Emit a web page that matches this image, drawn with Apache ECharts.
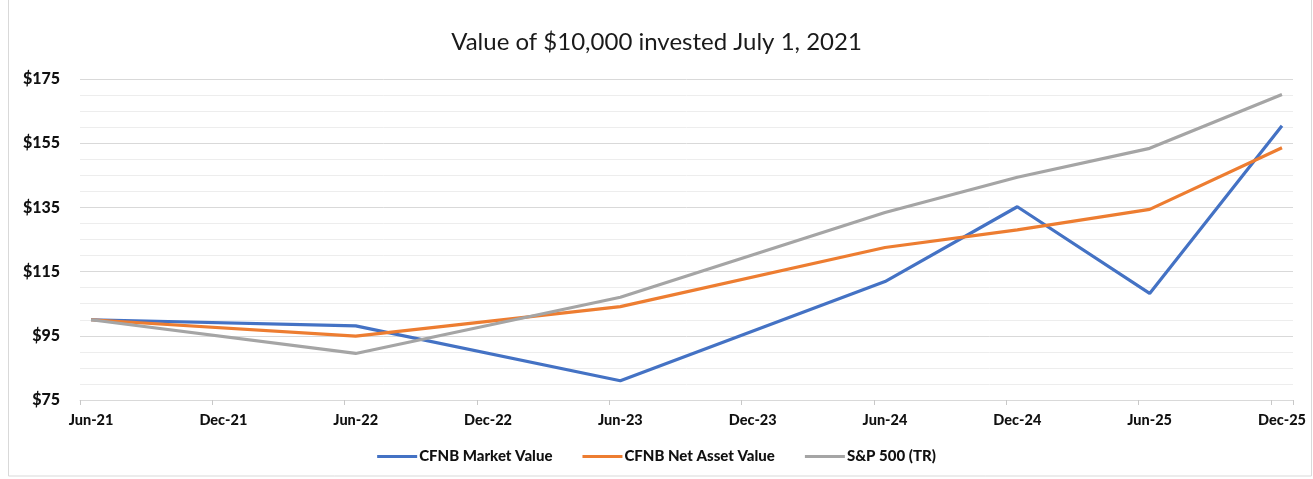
<!DOCTYPE html>
<html>
<head>
<meta charset="utf-8">
<title>Value of $10,000 invested July 1, 2021</title>
<script src="https://cdn.jsdelivr.net/npm/echarts@6/dist/echarts.min.js"></script>
<style>
  html, body { margin: 0; padding: 0; background: #fff; }
  #chart { width: 1313px; height: 479px; }
</style>
</head>
<body>
<div id="chart"></div>
<script>
// monthly category slots, Jun-21 .. Dec-25
const monthNames = ["Jan", "Feb", "Mar", "Apr", "May", "Jun", "Jul", "Aug", "Sep", "Oct", "Nov", "Dec"];
const months = [];
for (let y = 2021; y <= 2025; y++) {
  for (let m = 0; m < 12; m++) {
    if (y === 2021 && m < 5) continue;
    months.push(monthNames[m] + "-" + String(y).slice(2));
  }
}

const dates = ["Jun-21", "Jun-22", "Jun-23", "Jun-24", "Dec-24", "Jun-25", "Dec-25"];
const marketValue = [100, 98.1, 81.0, 111.9, 135.2, 108.2, 160.4];
const netAssetValue = [100, 94.9, 104.1, 122.5, 128.0, 134.4, 153.6];
const sp500 = [100, 89.5, 107.0, 133.4, 144.4, 153.4, 170.2];

const pairs = vals => dates.map((d, i) => [d, vals[i]]);

const font = "Lato, 'Liberation Sans', sans-serif";

const lineSeries = (name, color, vals) => ({
  name,
  type: "line",
  data: pairs(vals),
  connectNulls: true,
  showSymbol: false,
  symbol: "none",
  lineStyle: { color, width: 3.2 },
  itemStyle: { color },
  emphasis: { disabled: true }
});

const chart = echarts.init(document.getElementById("chart"));
chart.setOption({
  animation: false,
  title: {
    text: "Value of $10,000 invested July 1, 2021",
    left: "center",
    top: 25,
    textStyle: { fontFamily: font, fontWeight: "normal", fontSize: 24, color: "#1a1a1a" }
  },
  graphic: [{
    type: "rect",
    shape: { x: 8.5, y: -2, width: 1303, height: 478 },
    style: { fill: "none", stroke: "#d9d9d9", lineWidth: 1 },
    silent: true
  }],
  legend: {
    bottom: 10,
    left: "center",
    itemWidth: 40,
    itemHeight: 3,
    itemGap: 30,
    icon: "rect",
    textStyle: { fontFamily: font, fontWeight: 900, fontSize: 15, color: "#111", padding: [0, 0, 0, -3] },
    data: ["CFNB Market Value", "CFNB Net Asset Value", "S&P 500 (TR)"]
  },
  grid: { left: 80, right: 20, top: 79, bottom: 79 },
  xAxis: {
    type: "category",
    data: months,
    boundaryGap: true,
    axisLine: { lineStyle: { color: "#d9d9d9" } },
    axisTick: { show: true, interval: 5, length: 5, lineStyle: { color: "#c8c8c8", width: 1 } },
    axisLabel: {
      interval: 5,
      margin: 13,
      color: "#111",
      fontFamily: font,
      fontWeight: 900,
      fontSize: 14.5
    },
    splitLine: { show: false }
  },
  yAxis: {
    type: "value",
    min: 75,
    max: 175,
    interval: 20,
    axisLine: { show: false },
    axisTick: { show: false },
    axisLabel: {
      margin: 20,
      color: "#111",
      fontFamily: font,
      fontWeight: 900,
      fontSize: 16,
      formatter: v => "$" + v
    },
    splitLine: { lineStyle: { color: "#d9d9d9" } },
    minorTick: { show: false, splitNumber: 4 },
    minorSplitLine: { show: true, lineStyle: { color: "#ededed" } }
  },
  series: [
    lineSeries("CFNB Market Value", "#4472C4", marketValue),
    lineSeries("CFNB Net Asset Value", "#ED7D31", netAssetValue),
    lineSeries("S&P 500 (TR)", "#A5A5A5", sp500)
  ]
});
</script>
</body>
</html>
